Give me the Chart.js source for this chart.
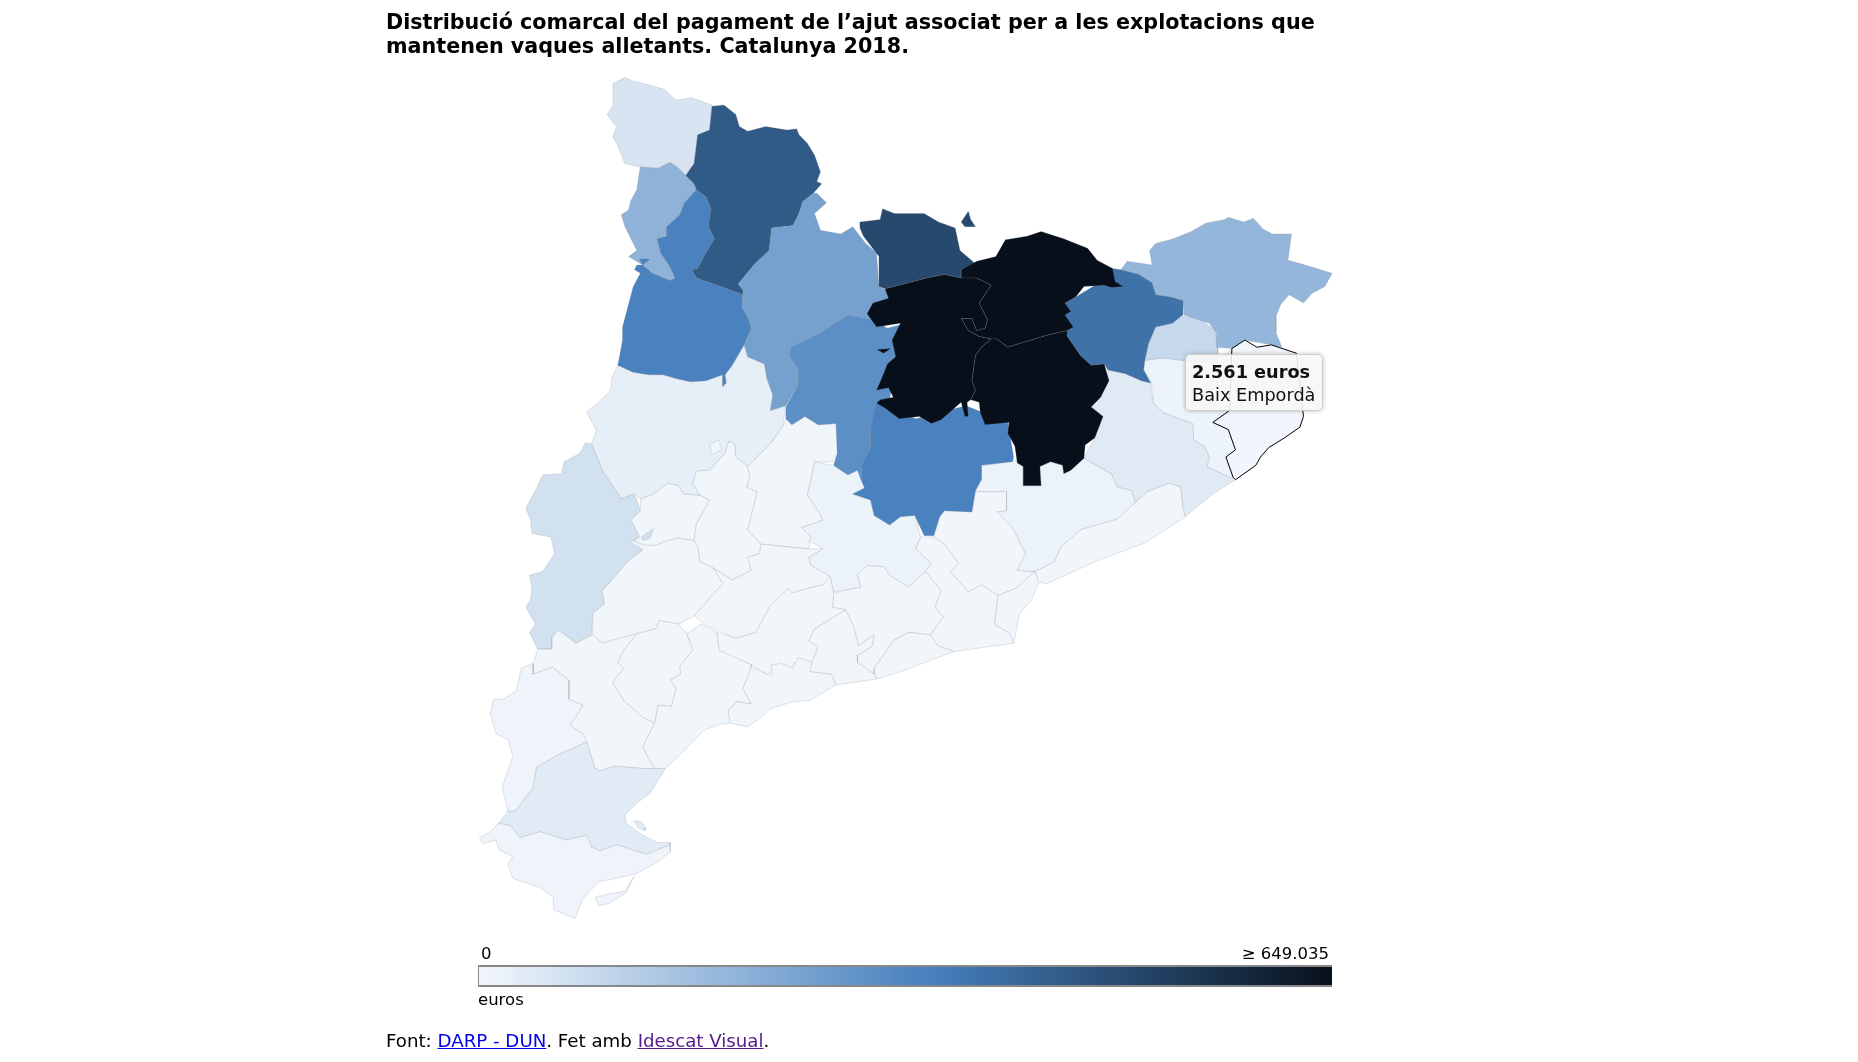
<!DOCTYPE html>
<html lang="ca">
<head>
<meta charset="utf-8">
<title>Vaques alletants</title>
<script src="https://cdn.jsdelivr.net/npm/chart.js@4"></script>
<style>
  html, body { margin: 0; padding: 0; background: #fff; }
  body { width: 1858px; height: 1062px; position: relative; overflow: hidden; font-family: "DejaVu Sans", sans-serif; color: #000; }
  #mapa { position: absolute; left: 0; top: 0; }
  .txt { position: absolute; white-space: nowrap; font-size: 16.5px; line-height: 18px; }
  #titol { left: 386px; top: 10px; font-size: 20.7px; font-weight: bold; line-height: 24px; }
  #barra { position: absolute; left: 478px; top: 965px; width: 853px; height: 18px; border: 1px solid #888; border-width: 2px 0 2px 1px; }
  #tip { position: absolute; left: 1185px; top: 354px; width: 138px; height: 57px; box-sizing: border-box; padding: 6px 6px; background: rgba(247,247,247,.9);
         border: 1px solid #ccc; border-radius: 5px; box-shadow: 0 0 4px rgba(0,0,0,.25); font-size: 17.7px; line-height: 23px; white-space: nowrap; color: #111; }
  a.blau { color: #0000ee; } a.lila { color: #551a8b; }
</style>
</head>
<body>
<canvas id="mapa" width="1858" height="1062"></canvas>
<div class="txt" id="titol">Distribució comarcal del pagament de l’ajut associat per a les explotacions que<br>mantenen vaques alletants. Catalunya 2018.</div>
<div class="txt" style="left:481px;top:945px">0</div>
<div class="txt" style="right:529px;top:945px">≥ 649.035</div>
<div id="barra"></div>
<div class="txt" style="left:478px;top:991px">euros</div>
<div class="txt" style="left:386px;top:1032px;font-size:18.2px">Font: <a class="blau" href="#">DARP - DUN</a>. Fet amb <a class="lila" href="#">Idescat Visual</a>.</div>
<div id="tip"><b>2.561 euros</b><br>Baix Empordà</div>
<script>
// valors en euros, llegits del color de cada comarca
const comarques = ["Pla d'Urgell", 'Noguera', 'Segrià', 'Urgell', 'Segarra', 'Anoia', 'Baix Llobregat', 'Vallès Occidental', 'Vallès Oriental',
  'Barcelonès', 'Maresme', 'Alt Penedès', 'Garraf', 'Baix Penedès', 'Conca de Barberà', 'Alt Camp', 'Garrigues', 'Ribera d\'Ebre', 'Priorat',
  'Baix Camp', 'Tarragonès', 'Terra Alta', 'Baix Ebre', 'Montsià', 'Gironès', 'Selva', "Pla de l'Estany", 'Alt Empordà', 'Val d\'Aran',
  'Alta Ribagorça', 'Pallars Jussà', 'Pallars Sobirà', 'Alt Urgell', 'Solsonès', 'Bages', 'Garrotxa', 'Cerdanya', 'Ripollès', 'Berguedà', 'Osona', 'Baix Empordà'];
const valors = [3000, 26000, 65000, 3000, 3000, 14000, 3000, 3000, 14000,
  3000, 3000, 3000, 3000, 3000, 3000, 3000, 3000, 3000, 3000,
  3000, 3000, 8000, 36000, 10000, 12000, 38000, 90000, 189000, 54000,
  199000, 338000, 446000, 248000, 302000, 338000, 383000, 494000, 700000, 700000, 700000, 2561];

// escala de colors de la llegenda
const maxEscala = 649035;
const posEscala = [0, 0.53, 1];
const colorsEscala = [[243, 247, 252], [70, 128, 190], [7, 16, 26]];

// contorns en unitats del mapa, una llista de parts per comarca
const contorns = [
  [[[537,418],[548,414],[560,405],[569,407],[573,414],[587,415],[595,419],[592,425],[584,439],[582,453],[569,451],[560,453],[550,457],[540,457],[531,453],[537,450],[529,436],[537,428]]],
  [[[518,306],[531,312],[544,314],[556,314],[566,317],[579,320],[592,319],[606,314],[606,324],[609,321],[608,314],[614,306],[624,289],[627,299],[641,305],[643,317],[648,331],[646,344],[659,341],[656,358],[646,372],[627,391],[617,383],[616,372],[611,370],[608,380],[595,394],[584,395],[581,405],[587,415],[573,414],[569,407],[560,405],[548,414],[537,418],[532,414],[521,418],[505,394],[496,372],[500,361],[492,345],[502,337],[512,327],[513,317]]],
  [[[491,371],[496,372],[505,394],[521,418],[532,414],[537,428],[529,436],[536,450],[529,454],[539,461],[526,471],[515,484],[505,495],[507,506],[497,514],[496,532],[483,539],[468,528],[463,534],[463,544],[451,544],[444,530],[449,523],[441,509],[445,502],[446,493],[444,482],[455,479],[465,464],[462,450],[446,447],[445,436],[441,426],[451,407],[455,398],[471,397],[473,387],[486,380]],
   [[538,450],[548,443],[545,451],[539,453]]],
  [[[584,395],[595,394],[608,380],[611,370],[616,372],[617,383],[627,391],[629,400],[626,408],[635,412],[627,444],[638,456],[637,464],[627,467],[630,478],[614,486],[598,476],[587,471],[585,458],[582,453],[584,439],[592,425],[595,419],[587,415],[581,405]],
   [[595,372],[603,369],[605,377],[597,381]]],
  [[[627,391],[646,372],[656,358],[659,351],[664,356],[675,349],[686,356],[701,355],[703,380],[698,387],[683,387],[680,402],[677,415],[686,428],[690,436],[672,442],[680,450],[678,460],[638,456],[627,444],[635,412],[626,408],[629,400]]],
  [[[683,387],[698,390],[711,398],[719,394],[723,402],[725,409],[715,414],[730,419],[733,432],[746,440],[755,433],[767,432],[772,450],[768,460],[781,472],[776,479],[762,492],[747,483],[741,475],[727,474],[719,482],[722,492],[699,496],[696,483],[680,474],[678,467],[690,460],[678,453],[680,450],[672,442],[690,436],[686,428],[677,415],[680,402]]],
  [[[772,450],[783,450],[792,456],[804,472],[797,479],[812,496],[823,490],[837,499],[834,523],[847,531],[850,539],[800,546],[786,541],[780,532],[791,517],[784,509],[789,495],[776,479],[781,472],[768,460]]],
  [[[818,412],[844,412],[844,428],[836,429],[849,442],[860,464],[853,478],[868,479],[852,493],[837,499],[823,490],[812,496],[797,479],[804,472],[792,456],[783,450],[788,433],[792,428],[815,429]]],
  [[[823,391],[850,385],[858,391],[858,407],[873,407],[872,391],[881,387],[891,390],[892,397],[898,394],[909,384],[932,397],[937,408],[949,411],[952,421],[937,435],[906,444],[890,458],[884,471],[868,479],[853,478],[860,464],[849,442],[836,429],[844,428],[844,412],[818,412]]],
  [[[868,479],[871,488],[865,503],[855,514],[850,539],[847,531],[834,523],[837,499],[852,493]]],
  [[[952,421],[962,412],[980,405],[990,408],[992,425],[994,433],[960,455],[920,470],[878,489],[871,488],[868,479],[884,471],[890,458],[906,444],[937,435]]],
  [[[699,497],[722,492],[719,482],[727,474],[741,475],[747,483],[762,492],[776,479],[789,495],[784,509],[791,517],[780,532],[762,530],[749,537],[743,546],[733,560],[733,565],[719,555],[719,549],[731,542],[733,532],[720,541],[715,523],[709,511],[698,509]]],
  [[[780,532],[762,530],[749,537],[743,546],[733,560],[735,569],[755,563],[800,546],[786,541]]],
  [[[678,562],[686,542],[678,537],[683,527],[709,511],[715,523],[720,541],[733,532],[731,542],[719,549],[719,555],[733,565],[735,569],[701,574],[697,565],[679,563]]],
  [[[638,456],[678,460],[690,460],[678,467],[680,474],[696,483],[690,490],[678,493],[664,497],[661,493],[645,509],[634,530],[617,535],[592,524],[582,516],[606,489],[598,476],[614,486],[630,478],[627,467],[637,464]]],
  [[[661,493],[664,497],[678,493],[690,490],[696,483],[699,497],[698,509],[709,511],[683,527],[678,537],[686,542],[678,562],[666,555],[664,560],[650,562],[643,565],[630,557],[611,549],[603,545],[601,530],[617,535],[634,530],[645,509]]],
  [[[531,453],[540,457],[550,457],[560,453],[569,451],[582,453],[585,458],[587,471],[598,476],[606,489],[582,516],[569,523],[553,520],[550,527],[534,531],[512,537],[505,539],[497,532],[497,514],[507,506],[505,495],[515,484],[526,471],[539,461]]],
  [[[451,544],[463,544],[463,534],[468,528],[483,539],[497,532],[505,539],[512,537],[534,531],[523,545],[518,555],[523,560],[514,572],[523,587],[539,601],[549,606],[539,626],[546,641],[549,644],[539,644],[516,642],[503,646],[499,644],[492,622],[489,615],[478,608],[489,591],[477,586],[477,570],[463,559],[447,565],[447,556]]],
  [[[534,531],[550,527],[553,520],[569,523],[576,531],[581,545],[570,558],[571,565],[562,570],[567,577],[563,592],[552,591],[549,606],[539,601],[523,587],[514,572],[523,560],[518,555],[523,545]]],
  [[[612,606],[604,607],[590,612],[573,630],[558,644],[549,644],[539,626],[549,606],[552,591],[563,592],[567,577],[562,570],[571,565],[570,558],[581,545],[576,531],[588,523],[601,530],[603,545],[630,557],[630,559],[623,577],[630,590],[618,588],[611,595]]],
  [[[630,559],[643,565],[647,566],[647,557],[655,556],[665,560],[669,551],[681,555],[679,563],[697,565],[701,574],[679,587],[665,588],[646,594],[637,602],[627,609],[612,606],[611,595],[618,588],[630,590],[623,577]]],
  [[[447,556],[447,565],[463,559],[477,570],[477,586],[489,591],[478,608],[489,615],[492,622],[467,633],[450,643],[447,660],[432,680],[426,680],[421,660],[430,634],[426,620],[416,615],[411,598],[414,586],[422,586],[433,579],[437,560]]],
  [[[492,622],[499,644],[503,646],[516,642],[539,644],[558,644],[545,665],[534,673],[524,683],[525,690],[539,700],[551,706],[562,706],[562,708],[542,716],[517,708],[503,713],[496,710],[492,700],[475,704],[453,697],[436,702],[428,692],[418,690],[426,680],[432,680],[447,660],[450,643],[467,633]],
   [[531,688],[537,688],[541,693],[541,696],[535,694],[533,690]]],
  [[[418,690],[428,692],[436,702],[453,697],[475,704],[492,700],[496,710],[503,713],[517,708],[542,716],[562,708],[562,714],[552,722],[534,732],[517,736],[502,739],[489,753],[482,770],[464,762],[464,752],[453,744],[430,736],[426,724],[430,718],[418,712],[416,704],[405,707],[402,702],[411,697]],
   [[532,734],[525,748],[511,757],[502,759],[499,752],[511,749],[524,747]]],
  [[[960,302],[975,300],[992,302],[1021,305],[1033,292],[1031,344],[1017,354],[1030,360],[1036,377],[1028,383],[1034,400],[1031,400],[1012,391],[1014,383],[1010,374],[1001,369],[1000,355],[976,346],[967,338],[967,323],[959,310]]],
  [[[929,310],[943,313],[950,316],[957,319],[965,321],[967,338],[976,346],[1000,355],[1001,369],[1010,374],[1014,383],[1012,391],[1031,400],[1036,402],[1017,414],[994,433],[992,425],[990,408],[980,405],[962,412],[952,421],[949,411],[937,408],[932,397],[909,384],[918,367],[925,349],[915,341],[930,319]]],
  [[[992,265],[1006,267],[1019,277],[1021,291],[1021,305],[992,302],[975,300],[960,302],[963,288],[969,274],[983,271]]],
  [[[940,226],[945,219],[966,222],[964,210],[969,204],[984,200],[999,194],[1011,187],[1027,184],[1030,182],[1043,186],[1051,183],[1059,192],[1067,196],[1083,196],[1080,218],[1091,221],[1104,225],[1117,229],[1111,240],[1100,246],[1093,254],[1081,247],[1074,255],[1070,265],[1070,279],[1075,291],[1066,289],[1044,285],[1033,292],[1020,291],[1020,279],[1014,271],[993,264],[992,252],[982,249],[969,247],[966,237],[955,230]]],
  [[[514,70],[524,65],[531,68],[544,71],[557,75],[567,84],[580,82],[597,88],[595,109],[585,113],[582,137],[575,147],[569,141],[562,136],[552,141],[537,140],[524,137],[517,120],[514,115],[517,106],[509,96],[514,89]]],
  [[[537,140],[552,141],[562,136],[569,141],[575,147],[582,154],[584,159],[574,170],[570,180],[559,190],[559,198],[551,200],[554,212],[562,224],[566,233],[562,235],[547,229],[539,222],[527,215],[534,210],[524,190],[521,180],[527,176],[529,168],[534,159],[536,145]]],
  [[[584,159],[592,165],[596,175],[594,190],[599,200],[590,215],[585,225],[580,226],[584,233],[604,240],[623,247],[622,257],[628,268],[630,275],[624,289],[614,306],[608,314],[609,321],[606,324],[606,314],[592,319],[579,320],[566,317],[556,314],[544,314],[531,312],[518,306],[520,296],[522,285],[522,274],[526,259],[531,240],[537,229],[532,226],[534,222],[539,222],[547,229],[562,235],[566,233],[562,224],[554,212],[551,200],[559,198],[559,190],[570,180],[574,170]],
   [[536,217],[545,217],[539,222]]],
  [[[597,89],[607,88],[617,96],[620,106],[627,110],[642,106],[660,109],[668,108],[670,113],[677,120],[683,130],[688,144],[685,152],[689,154],[682,162],[673,169],[670,179],[665,189],[647,191],[645,210],[633,221],[619,238],[623,243],[623,247],[604,240],[584,233],[580,226],[585,225],[590,215],[599,200],[594,190],[596,175],[592,165],[584,159],[582,154],[575,147],[582,137],[585,113],[595,109]]],
  [[[682,162],[685,162],[693,170],[683,179],[688,193],[705,196],[715,190],[726,204],[735,212],[737,240],[748,246],[748,262],[733,268],[711,264],[686,280],[663,291],[662,299],[670,310],[670,321],[659,340],[646,344],[648,331],[643,317],[641,305],[627,299],[624,289],[630,275],[628,268],[622,257],[623,247],[623,243],[619,238],[633,221],[645,210],[647,191],[665,189],[670,179],[673,169]]],
  [[[663,291],[686,280],[711,264],[733,268],[744,275],[756,272],[752,300],[745,340],[735,346],[730,361],[730,375],[723,388],[722,402],[719,394],[711,398],[699,390],[702,380],[701,355],[686,356],[675,349],[664,356],[659,351],[659,341],[670,321],[670,310],[662,299]]],
  [[[730,361],[735,338],[768,351],[790,345],[810,340],[845,354],[850,383],[849,387],[823,390],[823,402],[818,411],[815,429],[792,428],[788,433],[783,449],[775,449],[767,432],[755,433],[746,440],[733,432],[730,419],[715,414],[725,409],[722,402],[723,388],[730,375]]],
  [[[933,225],[940,226],[955,230],[966,237],[969,247],[982,249],[992,252],[992,264],[983,271],[969,274],[963,288],[960,302],[959,310],[965,321],[957,319],[950,316],[943,313],[929,310],[926,305],[915,306],[906,298],[895,282],[893,264],[893,254],[902,249],[920,238]]],
  [[[721,186],[738,184],[740,175],[750,179],[775,179],[787,186],[801,191],[805,210],[818,221],[806,226],[806,233],[792,230],[777,233],[758,238],[742,242],[737,240],[737,215],[724,198],[721,191]],
   [[806,186],[812,177],[814,184],[818,190],[809,190]]],
  [[[806,226],[819,219],[835,215],[843,201],[861,198],[873,194],[892,200],[912,208],[920,218],[933,225],[935,236],[942,240],[932,241],[926,239],[909,240],[902,249],[893,254],[898,261],[893,264],[900,274],[895,277],[878,281],[861,286],[845,291],[836,284],[831,284],[821,282],[812,277],[806,267],[815,267],[819,277],[826,275],[828,268],[821,254],[831,239],[819,233],[806,233]]],
  [[[742,242],[758,238],[777,233],[792,230],[806,233],[819,233],[831,239],[821,254],[828,268],[826,275],[819,277],[815,267],[806,267],[812,277],[821,282],[831,284],[823,291],[818,298],[815,319],[818,327],[814,335],[811,337],[812,349],[809,349],[806,337],[789,352],[781,355],[771,349],[754,351],[742,342],[735,338],[738,335],[749,333],[745,325],[735,327],[741,313],[744,305],[751,299],[748,285],[755,271],[735,274],[727,263],[732,254],[745,250]],
   [[735,293],[747,292],[741,296]]],
  [[[814,335],[818,327],[815,319],[818,298],[823,291],[831,284],[836,284],[845,291],[861,286],[878,281],[895,277],[895,282],[906,298],[915,306],[926,305],[930,319],[923,333],[915,341],[925,349],[918,367],[910,373],[909,384],[898,394],[892,397],[891,390],[881,387],[872,391],[873,407],[858,407],[858,391],[853,388],[851,374],[845,363],[846,354],[826,356],[822,346],[821,337]]],
  [[[1033,292],[1044,285],[1054,291],[1066,289],[1075,292],[1087,296],[1093,349],[1090,358],[1077,367],[1064,375],[1057,383],[1053,390],[1036,402],[1034,400],[1028,383],[1036,377],[1030,360],[1017,354],[1031,344]]]
];

function colorDe(valor) {
  const t = Math.min(valor / maxEscala, 1);
  const k = t < posEscala[1] ? 0 : 1;
  const f = (t - posEscala[k]) / (posEscala[k + 1] - posEscala[k]);
  const c = colorsEscala[k].map((v, i) => Math.round(v + (colorsEscala[k + 1][i] - v) * f));
  return 'rgb(' + c.join(',') + ')';
}

// cada part es un dataset tancat; els ultims queden a sobre
const datasets = [];
comarques.forEach((nom, i) => {
  contorns[i].forEach(part => {
    const punts = part.concat([part[0]]).map(p => ({ x: p[0], y: p[1] }));
    const seleccionada = nom === 'Baix Empordà';
    datasets.push({
      label: nom,
      data: punts,
      showLine: true,
      tension: 0,
      pointRadius: 0,
      backgroundColor: colorDe(valors[i]),
      borderColor: seleccionada ? '#000' : 'rgba(120,125,135,.3)',
      borderWidth: seleccionada ? 1 : 0.7,
      fill: 'shape',
      order: 1000 - datasets.length
    });
  });
});

new Chart(document.getElementById('mapa').getContext('2d'), {
  type: 'scatter',
  data: { datasets: datasets },
  options: {
    responsive: false,
    animation: false,
    layout: { padding: 0 },
    plugins: { legend: { display: false }, title: { display: false }, tooltip: { enabled: false } },
    scales: {
      x: { type: 'linear', min: 0, max: 1558, display: false },
      y: { type: 'linear', min: 0, max: 890, reverse: true, display: false }
    }
  }
});

const tramsBarra = [0, .1, .2, .3, .4, .53, .7, .85, 1];
document.getElementById('barra').style.background = 'linear-gradient(to right,' +
  tramsBarra.map(p => colorDe(p * maxEscala) + ' ' + p * 100 + '%').join(',') + ')';
</script>
</body>
</html>
